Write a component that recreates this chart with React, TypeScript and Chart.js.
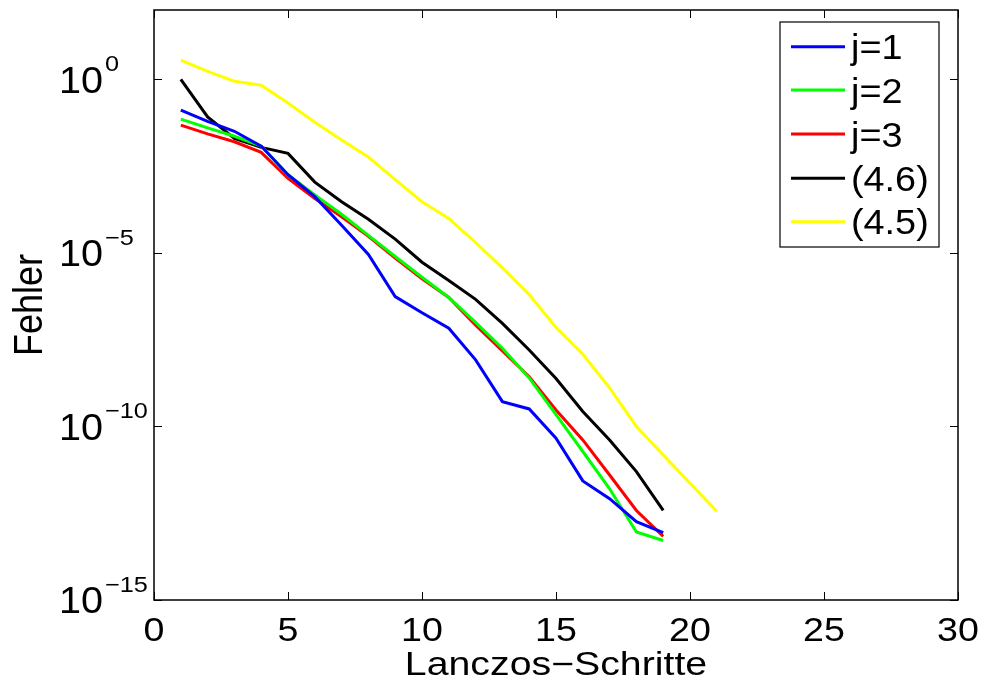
import React, { useEffect, useRef } from "react";
import { Chart, registerables } from "chart.js";

Chart.register(...registerables);

const steps = [1, 2, 3, 4, 5, 6, 7, 8, 9, 10, 11, 12, 13, 14, 15, 16, 17, 18, 19, 20, 21];

const errJ1 = [1.3e-1, 6.2e-2, 3.2e-2, 1.2e-2, 1.8e-3, 4.2e-4, 6.3e-5, 9.1e-6, 5.5e-7, 1.9e-7, 6.8e-8, 8.3e-9, 5.2e-10, 3.2e-10, 4.6e-11, 2.7e-12, 8.3e-13, 1.8e-13, 8.7e-14];
const errJ2 = [7.2e-2, 4.0e-2, 2.3e-2, 1.2e-2, 1.8e-3, 4.7e-4, 1.3e-4, 3.2e-5, 7.9e-6, 2.0e-6, 5.2e-7, 1.0e-7, 1.8e-8, 2.5e-9, 2.2e-10, 1.9e-11, 1.6e-12, 9.1e-14, 5.2e-14];
const errJ3 = [4.8e-2, 2.7e-2, 1.6e-2, 7.9e-3, 1.4e-3, 3.7e-4, 1.1e-4, 3.0e-5, 7.1e-6, 1.8e-6, 5.2e-7, 8.3e-8, 1.5e-8, 2.7e-9, 3.0e-10, 4.1e-11, 4.0e-12, 3.8e-13, 6.8e-14];
const bound46 = [1.0, 8.3e-2, 2.0e-2, 1.1e-2, 7.4e-3, 1.1e-3, 3.0e-4, 9.3e-5, 2.5e-5, 5.4e-6, 1.6e-6, 4.6e-7, 9.3e-8, 1.6e-8, 2.4e-9, 2.7e-10, 4.1e-11, 5.0e-12, 3.8e-13];
const bound45 = [3.6, 1.7, 8.9e-1, 6.8e-1, 2.1e-1, 5.8e-2, 1.8e-2, 5.8e-3, 1.3e-3, 3.0e-4, 9.8e-5, 2.0e-5, 3.7e-6, 6.3e-7, 7.1e-8, 1.2e-8, 1.3e-9, 1.0e-10, 1.5e-11, 2.3e-12, 3.6e-13];

const seriesLabels = ["j=1", "j=2", "j=3", "(4.6)", "(4.5)"];
const seriesColors = ["#0000ff", "#00ff00", "#ff0000", "#000000", "#ffff00"];
const seriesValues = [errJ1, errJ2, errJ3, bound46, bound45];

const xTicks = [0, 5, 10, 15, 20, 25, 30];
const xTickLabels = ["0", "5", "10", "15", "20", "25", "30"];
const yTicks = [1e0, 1e-5, 1e-10, 1e-15];
const yTickExponents = ["0", "\u22125", "\u221210", "\u221215"];

const xTitle = "Lanczos\u2212Schritte";
const yTitle = "Fehler";

const FONT = '"Liberation Sans", Arial, Helvetica, sans-serif';

function drawText(
  ctx: CanvasRenderingContext2D,
  s: string,
  x: number,
  y: number,
  align: CanvasTextAlign,
  size: number,
  sx: number
) {
  ctx.save();
  ctx.font = `${size}px ${FONT}`;
  ctx.fillStyle = "#000";
  ctx.translate(x, y);
  ctx.scale(sx, 1);
  ctx.textAlign = align;
  ctx.textBaseline = "alphabetic";
  ctx.fillText(s, 0, 0);
  ctx.restore();
}

const matlabPlugin = {
  id: "matlabDecor",
  afterDraw(chart: any) {
    const ctx: CanvasRenderingContext2D = chart.ctx;
    const { left, right, top, bottom } = chart.chartArea;
    const xs = chart.scales.x;
    const ys = chart.scales.y;

    // box
    ctx.save();
    ctx.strokeStyle = "#000";
    ctx.lineWidth = 1.5;
    ctx.strokeRect(left, top, right - left, bottom - top);

    // ticks (inward)
    const tl = 8;
    ctx.lineWidth = 1;
    ctx.beginPath();
    xTicks.forEach((v) => {
      const px = Math.round(xs.getPixelForValue(v)) + 0.5;
      ctx.moveTo(px, bottom);
      ctx.lineTo(px, bottom - tl);
      ctx.moveTo(px, top);
      ctx.lineTo(px, top + tl);
    });
    yTicks.forEach((v) => {
      const py = Math.round(ys.getPixelForValue(v)) + 0.5;
      ctx.moveTo(left, py);
      ctx.lineTo(left + tl, py);
      ctx.moveTo(right, py);
      ctx.lineTo(right - tl, py);
    });
    ctx.stroke();
    ctx.restore();

    // x tick labels
    xTicks.forEach((v, i) => {
      const px = xs.getPixelForValue(v);
      drawText(ctx, xTickLabels[i], px, 640.5, "center", 33, 1.14);
    });

    // y tick labels 10^k
    yTicks.forEach((v, i) => {
      const py = ys.getPixelForValue(v);
      drawText(ctx, "10", 103, py + 13.3, "right", 36, 1.1);
      drawText(ctx, yTickExponents[i], 105, py - 8.3, "left", 22, 1.15);
    });

    // axis titles
    drawText(ctx, xTitle, (left + right) / 2, 675, "center", 33, 1.19);
    ctx.save();
    ctx.font = `36px ${FONT}`;
    ctx.fillStyle = "#000";
    ctx.translate(42, (top + bottom) / 2);
    ctx.rotate(-Math.PI / 2);
    ctx.scale(1, 1.13);
    ctx.textAlign = "center";
    ctx.textBaseline = "alphabetic";
    ctx.fillText(yTitle, 0, 0);
    ctx.restore();

    // legend
    const lx0 = 780, ly0 = 22, lx1 = 939, ly1 = 247;
    ctx.save();
    ctx.fillStyle = "#fff";
    ctx.fillRect(lx0, ly0, lx1 - lx0, ly1 - ly0);
    ctx.strokeStyle = "#000";
    ctx.lineWidth = 1.2;
    ctx.strokeRect(lx0, ly0, lx1 - lx0, ly1 - ly0);
    const rowY = [46.7, 90, 134, 178.3, 221.7];
    seriesLabels.forEach((lab, i) => {
      const y = rowY[i];
      ctx.strokeStyle = seriesColors[i];
      ctx.lineWidth = 3;
      ctx.beginPath();
      ctx.moveTo(791, y);
      ctx.lineTo(845, y);
      ctx.stroke();
      drawText(ctx, lab, 851, y + 12.5, "left", 35, 1.08);
    });
    ctx.restore();
  },
};

export default function App() {
  const canvasRef = useRef<HTMLCanvasElement | null>(null);

  useEffect(() => {
    document.body.style.margin = "0";
    const canvas = canvasRef.current;
    if (!canvas) return;
    const datasets = seriesValues.map((vals, i) => ({
      label: seriesLabels[i],
      data: vals.map((v, k) => ({ x: steps[k], y: v })),
      borderColor: seriesColors[i],
      backgroundColor: seriesColors[i],
      borderWidth: 3,
      pointRadius: 0,
      tension: 0,
      fill: false,
    }));
    const chart = new Chart(canvas, {
      type: "line",
      data: { datasets },
      options: {
        animation: false,
        responsive: true,
        maintainAspectRatio: false,
        layout: { padding: { left: 154, right: 26, top: 10, bottom: 82 } },
        plugins: { legend: { display: false }, tooltip: { enabled: false } },
        scales: {
          x: { type: "linear", min: 0, max: 30, display: false },
          y: { type: "logarithmic", min: 1e-15, max: 1e2, display: false },
        },
      },
      plugins: [matlabPlugin],
    });
    return () => chart.destroy();
  }, []);

  return (
    <div style={{ width: 984, height: 682, position: "relative", background: "#fff" }}>
      <canvas ref={canvasRef} />
    </div>
  );
}
